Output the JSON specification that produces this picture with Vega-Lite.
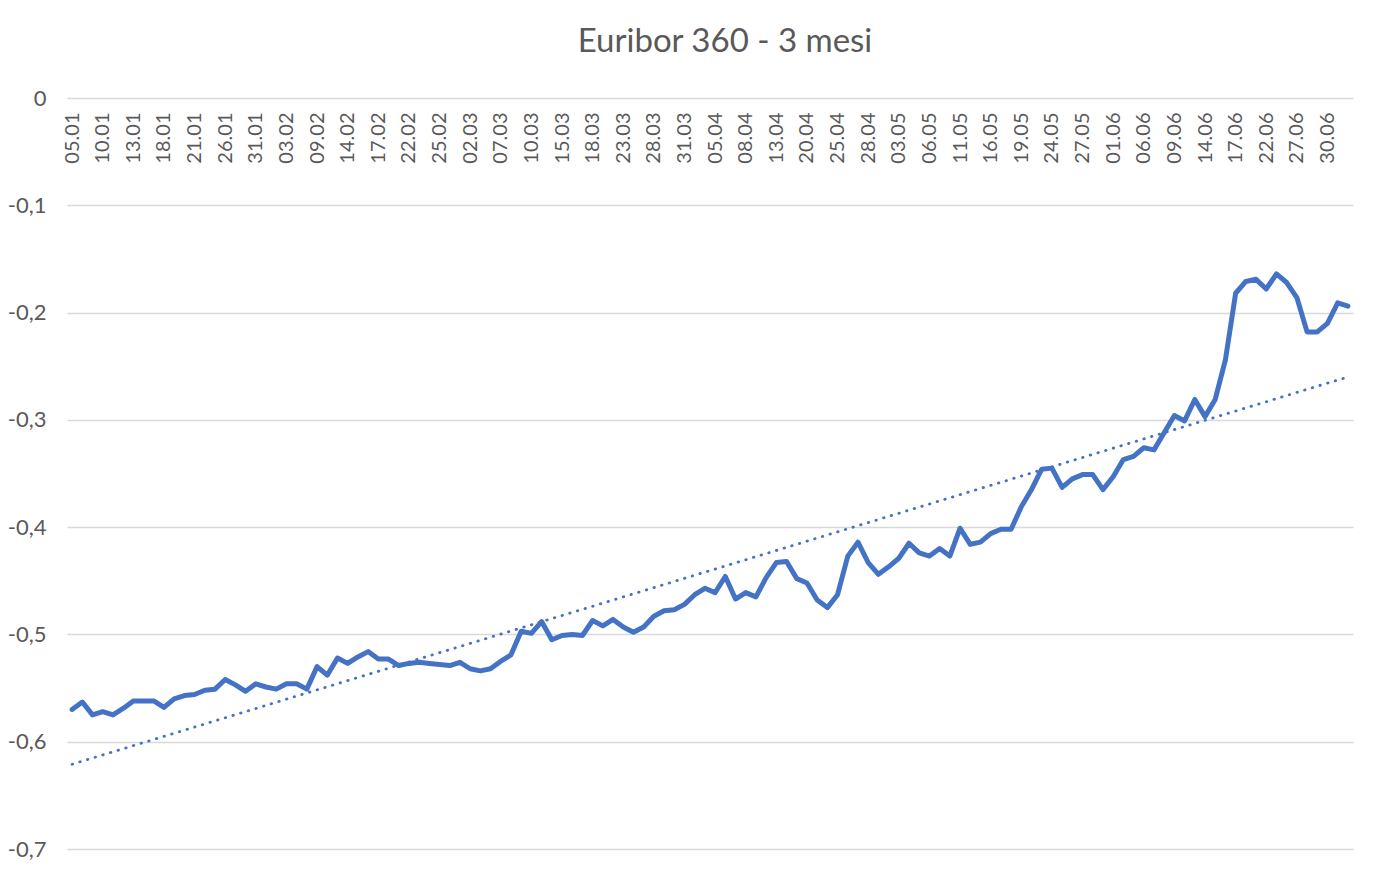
{
  "$schema": "https://vega.github.io/schema/vega-lite/v6.json",
  "width": 1286,
  "height": 751,
  "autosize": {"type": "none"},
  "padding": {"left": 67, "top": 98, "right": 23, "bottom": 24},
  "background": "white",
  "title": {
    "text": "Euribor 360 - 3 mesi",
    "font": "Lato",
    "fontSize": 33,
    "fontWeight": "normal",
    "color": "#595959",
    "anchor": "middle",
    "baseline": "alphabetic",
    "offset": 2,
    "dx": 15
  },
  "data": {
    "values": [
      {"d": "05.01", "v": -0.570, "t": -0.621},
      {"d": "06.01", "v": -0.563},
      {"d": "07.01", "v": -0.575},
      {"d": "10.01", "v": -0.572},
      {"d": "11.01", "v": -0.575},
      {"d": "12.01", "v": -0.569},
      {"d": "13.01", "v": -0.562},
      {"d": "14.01", "v": -0.562},
      {"d": "17.01", "v": -0.562},
      {"d": "18.01", "v": -0.568},
      {"d": "19.01", "v": -0.560},
      {"d": "20.01", "v": -0.557},
      {"d": "21.01", "v": -0.556},
      {"d": "24.01", "v": -0.552},
      {"d": "25.01", "v": -0.551},
      {"d": "26.01", "v": -0.542},
      {"d": "27.01", "v": -0.547},
      {"d": "28.01", "v": -0.553},
      {"d": "31.01", "v": -0.546},
      {"d": "01.02", "v": -0.549},
      {"d": "02.02", "v": -0.551},
      {"d": "03.02", "v": -0.546},
      {"d": "04.02", "v": -0.546},
      {"d": "07.02", "v": -0.551},
      {"d": "09.02", "v": -0.530},
      {"d": "10.02", "v": -0.538},
      {"d": "11.02", "v": -0.522},
      {"d": "14.02", "v": -0.527},
      {"d": "15.02", "v": -0.521},
      {"d": "16.02", "v": -0.516},
      {"d": "17.02", "v": -0.523},
      {"d": "18.02", "v": -0.523},
      {"d": "21.02", "v": -0.529},
      {"d": "22.02", "v": -0.527},
      {"d": "23.02", "v": -0.526},
      {"d": "24.02", "v": -0.527},
      {"d": "25.02", "v": -0.528},
      {"d": "28.02", "v": -0.529},
      {"d": "01.03", "v": -0.526},
      {"d": "02.03", "v": -0.532},
      {"d": "03.03", "v": -0.534},
      {"d": "04.03", "v": -0.532},
      {"d": "07.03", "v": -0.525},
      {"d": "08.03", "v": -0.519},
      {"d": "09.03", "v": -0.497},
      {"d": "10.03", "v": -0.499},
      {"d": "11.03", "v": -0.488},
      {"d": "14.03", "v": -0.505},
      {"d": "15.03", "v": -0.501},
      {"d": "16.03", "v": -0.500},
      {"d": "17.03", "v": -0.501},
      {"d": "18.03", "v": -0.487},
      {"d": "21.03", "v": -0.492},
      {"d": "22.03", "v": -0.486},
      {"d": "23.03", "v": -0.493},
      {"d": "24.03", "v": -0.498},
      {"d": "25.03", "v": -0.493},
      {"d": "28.03", "v": -0.483},
      {"d": "29.03", "v": -0.478},
      {"d": "30.03", "v": -0.477},
      {"d": "31.03", "v": -0.472},
      {"d": "01.04", "v": -0.463},
      {"d": "04.04", "v": -0.457},
      {"d": "05.04", "v": -0.461},
      {"d": "06.04", "v": -0.446},
      {"d": "07.04", "v": -0.467},
      {"d": "08.04", "v": -0.461},
      {"d": "11.04", "v": -0.465},
      {"d": "12.04", "v": -0.447},
      {"d": "13.04", "v": -0.433},
      {"d": "14.04", "v": -0.432},
      {"d": "19.04", "v": -0.448},
      {"d": "20.04", "v": -0.452},
      {"d": "21.04", "v": -0.468},
      {"d": "22.04", "v": -0.475},
      {"d": "25.04", "v": -0.463},
      {"d": "26.04", "v": -0.427},
      {"d": "27.04", "v": -0.414},
      {"d": "28.04", "v": -0.433},
      {"d": "29.04", "v": -0.444},
      {"d": "02.05", "v": -0.437},
      {"d": "03.05", "v": -0.429},
      {"d": "04.05", "v": -0.415},
      {"d": "05.05", "v": -0.424},
      {"d": "06.05", "v": -0.427},
      {"d": "09.05", "v": -0.420},
      {"d": "10.05", "v": -0.427},
      {"d": "11.05", "v": -0.401},
      {"d": "12.05", "v": -0.416},
      {"d": "13.05", "v": -0.414},
      {"d": "16.05", "v": -0.406},
      {"d": "17.05", "v": -0.402},
      {"d": "18.05", "v": -0.402},
      {"d": "19.05", "v": -0.381},
      {"d": "20.05", "v": -0.365},
      {"d": "23.05", "v": -0.346},
      {"d": "24.05", "v": -0.345},
      {"d": "25.05", "v": -0.363},
      {"d": "26.05", "v": -0.355},
      {"d": "27.05", "v": -0.351},
      {"d": "30.05", "v": -0.351},
      {"d": "31.05", "v": -0.365},
      {"d": "01.06", "v": -0.353},
      {"d": "02.06", "v": -0.337},
      {"d": "03.06", "v": -0.334},
      {"d": "06.06", "v": -0.326},
      {"d": "07.06", "v": -0.328},
      {"d": "08.06", "v": -0.312},
      {"d": "09.06", "v": -0.296},
      {"d": "10.06", "v": -0.301},
      {"d": "13.06", "v": -0.281},
      {"d": "14.06", "v": -0.297},
      {"d": "15.06", "v": -0.281},
      {"d": "16.06", "v": -0.244},
      {"d": "17.06", "v": -0.182},
      {"d": "20.06", "v": -0.171},
      {"d": "21.06", "v": -0.169},
      {"d": "22.06", "v": -0.178},
      {"d": "23.06", "v": -0.164},
      {"d": "24.06", "v": -0.172},
      {"d": "27.06", "v": -0.186},
      {"d": "28.06", "v": -0.218},
      {"d": "29.06", "v": -0.218},
      {"d": "30.06", "v": -0.210},
      {"d": "01.07", "v": -0.191},
      {"d": "04.07", "v": -0.194, "t": -0.260}
    ]
  },
  "encoding": {
    "x": {
      "field": "d",
      "type": "ordinal",
      "sort": null,
      "scale": {"type": "point", "padding": 0.5},
      "axis": {
        "orient": "top",
        "title": null,
        "domain": false,
        "ticks": false,
        "grid": false,
        "labelAngle": -90,
        "labelAlign": "right",
        "labelBaseline": "middle",
        "labelPadding": -14,
        "labelOverlap": false,
        "labelBound": false,
        "labelFont": "Lato",
        "labelFontSize": 20,
        "labelColor": "#595959",
        "values": ["05.01", "10.01", "13.01", "18.01", "21.01", "26.01", "31.01", "03.02", "09.02", "14.02", "17.02", "22.02", "25.02", "02.03", "07.03", "10.03", "15.03", "18.03", "23.03", "28.03", "31.03", "05.04", "08.04", "13.04", "20.04", "25.04", "28.04", "03.05", "06.05", "11.05", "16.05", "19.05", "24.05", "27.05", "01.06", "06.06", "09.06", "14.06", "17.06", "22.06", "27.06", "30.06"]
      }
    }
  },
  "layer": [
    {
      "mark": {"type": "line", "color": "#4472C4", "strokeWidth": 5, "strokeCap": "round", "strokeJoin": "round"},
      "encoding": {
        "y": {
          "field": "v",
          "type": "quantitative",
          "scale": {"domain": [-0.7, 0], "nice": false, "zero": false},
          "axis": {
            "title": null,
            "values": [0, -0.1, -0.2, -0.3, -0.4, -0.5, -0.6, -0.7],
            "domain": false,
            "ticks": false,
            "labelPadding": 21,
            "labelFont": "Lato",
            "labelFontSize": 22,
            "labelColor": "#595959",
            "labelExpr": "datum.value == 0 ? '0' : replace(replace(format(datum.value, '.1f'), '\u2212', '-'), '.', ',')",
            "grid": true,
            "gridColor": "#d9d9d9",
            "gridWidth": 1.5
          }
        }
      }
    },
    {
      "transform": [{"filter": "isValid(datum.t)"}],
      "mark": {"type": "line", "color": "#4472C4", "strokeWidth": 2.8, "strokeCap": "round", "strokeDash": [0.5, 7.5]},
      "encoding": {
        "y": {"field": "t", "type": "quantitative"}
      }
    }
  ],
  "config": {
    "view": {"stroke": null}
  }
}
